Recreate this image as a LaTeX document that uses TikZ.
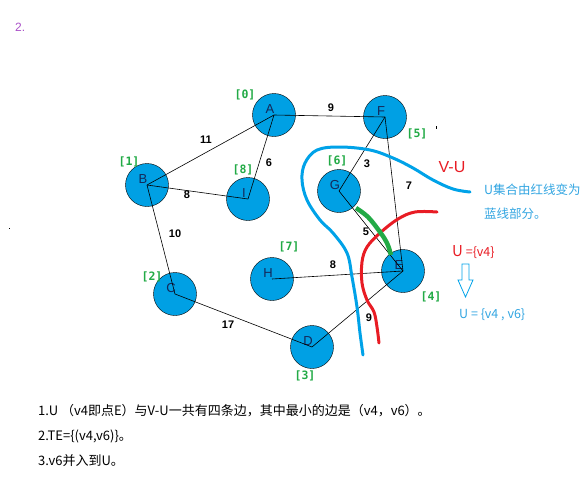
\documentclass[tikz,border=0pt]{standalone}
\usepackage{fontspec}
\setmainfont{Liberation Sans}
\newfontfamily\cjk{Noto Sans CJK SC}
\newfontfamily\monofont{DejaVu Sans Mono}
\usetikzlibrary{positioning}

\definecolor{nodeblue}{RGB}{0,160,228}
\definecolor{letterblue}{RGB}{20,40,90}
\definecolor{idxgreen}{RGB}{34,170,70}
\definecolor{penred}{RGB}{232,28,36}
\definecolor{penblue}{RGB}{0,162,232}
\definecolor{textblue}{RGB}{50,165,225}
\definecolor{penpurple}{RGB}{170,80,200}

\tikzset{
    vertex/.style={circle, draw, fill=nodeblue, minimum size=43pt, inner sep=0pt,
        label={[letter]center:#1}},
    letter/.style={xshift=-4pt, yshift=6pt, text=letterblue, font=\fontsize{13}{13}\selectfont},
    weight/.style={font=\fontsize{11}{11}\selectfont\bfseries},
    index/.style={text=idxgreen, font=\fontsize{11.5}{11.5}\selectfont\monofont\bfseries},
    edge/.style={draw, line width=0.6pt},
    note/.style={anchor=west, inner sep=0pt, font=\fontsize{12.5}{12.5}\selectfont\cjk}
}

\begin{document}
\begin{tikzpicture}[x=1pt, y=-1pt]
    \useasboundingbox (0,0) rectangle (586,480);

    % Draw nodes
    \node[vertex=A] (A) at (274,115) {};
    \node[vertex=F] (F) at (385,117) {};
    \node[vertex=B] (B) at (147,185) {};
    \node[vertex=I] (I) at (248,199) {};
    \node[vertex=G] (G) at (339,191) {};
    \node[vertex=H] (H) at (272,279) {};
    \node[vertex=E] (E) at (403,271) {};
    \node[vertex=C] (C) at (175,294) {};
    \node[vertex=D] (D) at (312,347) {};

    % Draw connections
    \draw[edge] (A.center) -- (F.center);
    \draw[edge] (A.center) -- (B.center);
    \draw[edge] (A.center) -- (I.center);
    \draw[edge] (B.center) -- (I.center);
    \draw[edge] (B.center) -- (C.center);
    \draw[edge] (C.center) -- (D.center);
    \draw[edge] (F.center) -- (G.center);
    \draw[edge] (F.center) -- (E.center);
    \draw[edge] (G.center) -- (E.center);
    \draw[edge] (H.center) -- (E.center);
    \draw[edge] (D.center) -- (E.center);

    % Weights
    \node[weight] (wAF) at (331,108) {9};
    \node[weight] (wAB) at (206,140) {11};
    \node[weight] (wAI) at (269,163) {6};
    \node[weight] (wBI) at (187,195) {8};
    \node[weight] (wBC) at (175,234) {10};
    \node[weight] (wCD) at (228,325) {17};
    \node[weight] (wFG) at (367,164) {3};
    \node[weight] (wFE) at (409,186) {7};
    \node[weight] (wGE) at (366,232) {5};
    \node[weight] (wHE) at (333,265) {8};
    \node[weight] (wDE) at (369,318) {9};

    % Labels
    \node[index] (iA) at (245,95) {[0]};
    \node[index] (iB) at (129,162) {[1]};
    \node[index] (iC) at (152,277) {[2]};
    \node[index] (iD) at (305,376) {[3]};
    \node[index] (iE) at (431,297) {[4]};
    \node[index] (iF) at (417,134) {[5]};
    \node[index] (iG) at (337,161) {[6]};
    \node[index] (iH) at (289,247) {[7]};
    \node[index] (iI) at (243,170) {[8]};

    % Pen strokes
    \draw[penblue, line width=3pt, line cap=round] plot[smooth, tension=0.6] coordinates {
        (470,192) (453,189) (433,180) (413,168) (393,158) (370,150) (340,147)
        (317,150) (305,163) (302,180) (307,200) (320,220) (333,233) (347,253)
        (352,277) (357,307) (360,333) (363,355)};
    \draw[penred, line width=3pt, line cap=round] plot[smooth, tension=0.6] coordinates {
        (437,212) (415,212) (398,219) (380,233) (367,247) (362,262) (362,283)
        (367,300) (374,312) (377,327) (379,343)};
    \draw[idxgreen, line width=4.5pt] plot[smooth, tension=0.6] coordinates {
        (356,208) (368,217) (380,232) (387,243) (391,255)};

    % Notes on the right
    \node[text=penred, font=\fontsize{16}{16}\selectfont] (vu) at (452,167) {V-U};
    \node[note, text=textblue] (n1) at (484,190) {U集合由红线变为};
    \node[note, text=textblue] (n2) at (484,214) {蓝线部分。};
    \node[note, text=penred] (u1) at (452,252) {{\fontsize{15}{15}\selectfont U} =\{v4\}};
    \draw[penblue, line width=0.8pt] (462,264) -- (469,264) -- (469,280) -- (473,280)
        -- (465.5,297) -- (458,280) -- (462,280) -- cycle;
    \node[note, text=textblue] (u2) at (459,315) {U = \{v4 , v6\}};

    % Text
    \node[text=penpurple, anchor=west, inner sep=0pt, font=\fontsize{12}{12}\selectfont] (num) at (15,27) {2.};
    \node[note, font=\fontsize{13}{13}\selectfont\cjk] (s1) at (38,411) {1.U （v4即点E）与V-U一共有四条边，其中最小的边是（v4，v6）。};
    \node[note, font=\fontsize{13}{13}\selectfont\cjk] (s2) at (38,436) {2.TE=\{(v4,v6)\}。};
    \node[note, font=\fontsize{13}{13}\selectfont\cjk] (s3) at (38,461) {3.v6并入到U。};

    % Stray marks
    \fill (435.5,126) rectangle (436.5,129);
    \fill (8.5,227.5) rectangle (9.5,228.5);
\end{tikzpicture}
\end{document}
